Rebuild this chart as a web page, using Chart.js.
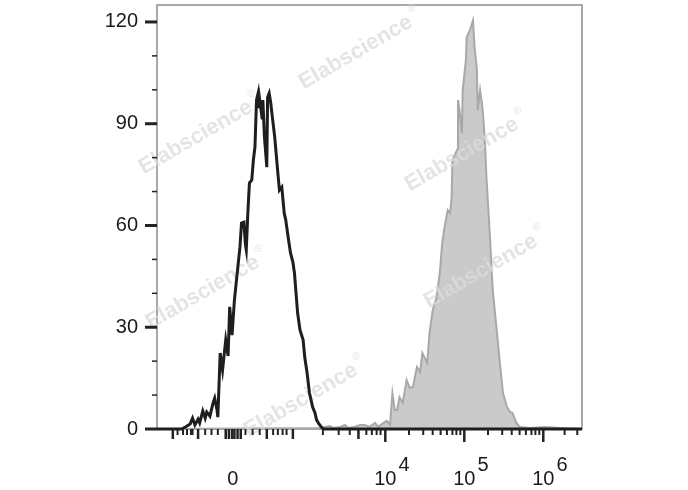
<!DOCTYPE html>
<html>
<head>
<meta charset="utf-8">
<script src="https://cdn.jsdelivr.net/npm/chart.js@4.4.1/dist/chart.umd.min.js"></script>
<style>
  html, body { margin: 0; padding: 0; background: #fff; }
  #wrap { width: 688px; height: 490px; }
</style>
</head>
<body>
<div id="wrap"><canvas id="histChart" width="688" height="490"></canvas></div>
<script>
// x values are in display units of the biexponential axis (10^4 -> 4, 10^5 -> 5, 10^6 -> 6)
const controlX = [1.11, 1.42, 1.47, 1.53, 1.56, 1.59, 1.63, 1.65, 1.69, 1.72, 1.74, 1.78, 1.82, 1.84, 1.87, 1.88,
    1.91, 1.94, 1.98, 2.01, 2.03, 2.06, 2.09, 2.12, 2.14, 2.16, 2.18, 2.21, 2.23, 2.24, 2.26, 2.28, 2.31, 2.33,
    2.35, 2.37, 2.39, 2.40, 2.41, 2.44, 2.45, 2.47, 2.50, 2.51, 2.53, 2.55, 2.56, 2.60, 2.64, 2.66, 2.69, 2.72,
    2.74, 2.77, 2.80, 2.83, 2.85, 2.89, 2.92, 2.96, 2.98, 3.01, 3.04, 3.08, 3.11, 3.13, 3.16, 3.20, 3.22, 6.49];
const controlY = [0, 0, 0.6, 1.5, 3.2, 1.2, 2.9, 1.8, 5.3, 3.2, 5.0, 3.8, 7.7, 9.1, 5.6, 3.5,
    22.4, 17.4, 26.2, 21.5, 36.0, 27.7, 38.0, 44.8, 49.2, 53.6, 60.7, 61.0, 54.2, 52.8, 63.7, 72.5, 73.4, 79.3,
    83.1, 97.0, 99.0, 94.6, 97.0, 91.7, 97.0, 86.1, 77.2, 97.8, 99.0, 96.1, 94.0, 86.1, 75.4, 70.4, 71.3, 63.7,
    61.6, 56.6, 51.9, 49.2, 46.0, 34.2, 29.2, 26.2, 21.2, 16.5, 10.6, 6.5, 4.7, 2.7, 1.5, 0.3, 0, 0];

const stainedX = [1.11, 3.17, 3.30, 3.34, 3.43, 3.49, 3.53, 3.61, 3.68, 3.74, 3.80, 3.87, 3.91, 3.96, 4.02, 4.06,
    4.09, 4.12, 4.15, 4.18, 4.22, 4.27, 4.31, 4.35, 4.40, 4.44, 4.47, 4.53, 4.56, 4.60, 4.65, 4.69, 4.72, 4.75,
    4.79, 4.82, 4.84, 4.85, 4.88, 4.91, 4.92, 4.94, 4.97, 4.98, 5.02, 5.03, 5.07, 5.11, 5.13, 5.16, 5.17, 5.20,
    5.23, 5.26, 5.28, 5.32, 5.36, 5.41, 5.45, 5.49, 5.54, 5.58, 5.61, 5.66, 5.70, 5.83, 6.02, 6.21, 6.49];
const stainedY = [0, 0.3, 0.9, 0.3, 0.6, 1.2, 0.3, 0.6, 1.2, 1.2, 0.6, 1.8, 0.6, 1.5, 2.4, 1.2,
    10.6, 5.6, 5.6, 9.4, 7.7, 14.4, 12.1, 12.4, 18.3, 16.8, 22.4, 19.5, 28.3, 35.0, 38.9, 46.0, 54.8, 59.5,
    64.5, 63.6, 68.4, 79.3, 80.8, 82.3, 97.0, 94.0, 87.2, 99.9, 108.7, 115.5, 117.5, 120.5, 112.6, 105.8, 94.0, 99.9,
    94.9, 85.2, 74.3, 58.6, 41.0, 29.2, 19.5, 10.6, 6.5, 5.0, 4.7, 1.8, 0.6, 0.3, 0.6, 0.3, 0];

const yMinorTicks = [10, 20, 40, 50, 70, 80, 100, 110];
const xLabelTicks = [2.07, 4, 5, 6];
const xLabelBase = ['0', '10', '10', '10'];
const xLabelSup = ['', '4', '5', '6'];
const xLongTicks = [1.31, 1.63, 1.98, 2.02, 2.06, 2.09, 2.13, 2.17, 2.50, 2.83, 3.66, 4, 5, 6];
const xShortTicks = [1.37, 1.44, 1.49, 1.54, 1.56, 1.72, 1.80, 1.88, 2.23, 2.32, 2.41, 2.58, 2.64, 2.70, 2.75,
    3.21, 3.41, 3.55, 3.76, 3.83, 3.89, 3.94,
    4.30, 4.48, 4.60, 4.70, 4.78, 4.85, 4.90, 4.95,
    5.30, 5.48, 5.60, 5.70, 5.78, 5.85, 5.90, 5.95, 6.27, 6.43];
const watermarkSpots = [[360, 50], [200, 135], [466, 152], [207, 290], [485, 269], [305, 398]];

const FONT = "'Liberation Sans', Arial, sans-serif";

function toPoints(xs, ys) {
    return xs.map((x, i) => ({ x: x, y: ys[i] }));
}

// frame, tick marks, x labels with superscripts, watermark
const cytoAxes = {
    id: 'cytoAxes',
    beforeDatasetsDraw(chart) {
        const ctx = chart.ctx;
        const a = chart.chartArea;
        ctx.save();
        ctx.strokeStyle = '#8c8c8c';
        ctx.lineWidth = 1.5;
        ctx.strokeRect(a.left, a.top, a.right - a.left, a.bottom - a.top);
        ctx.restore();
    },
    afterDatasetDraw(chart, args) {
        if (args.index !== 1) return;
        const ctx = chart.ctx;
        ctx.save();
        ctx.font = 'bold 22px ' + FONT;
        ctx.fillStyle = 'rgba(220, 220, 220, 0.76)';
        ctx.textAlign = 'center';
        ctx.textBaseline = 'middle';
        watermarkSpots.forEach(p => {
            ctx.save();
            ctx.translate(p[0], p[1]);
            ctx.rotate(-30 * Math.PI / 180);
            ctx.fillText('Elabscience', -5, 0);
            const w = ctx.measureText('Elabscience').width;
            ctx.font = '11px ' + FONT;
            ctx.fillText('\u00AE', w / 2 + 2, -10);
            ctx.restore();
        });
        ctx.restore();
    },
    afterDraw(chart) {
        const ctx = chart.ctx;
        const a = chart.chartArea;
        const xs = chart.scales.x;
        const ys = chart.scales.y;
        ctx.save();
        ctx.strokeStyle = '#222';
        // y ticks
        ys.ticks.forEach(t => {
            const y = ys.getPixelForValue(t.value);
            ctx.lineWidth = 3;
            ctx.beginPath();
            ctx.moveTo(a.left - 12, y);
            ctx.lineTo(a.left, y);
            ctx.stroke();
        });
        ctx.lineWidth = 1.5;
        yMinorTicks.forEach(v => {
            const y = ys.getPixelForValue(v);
            ctx.beginPath();
            ctx.moveTo(a.left - 5, y);
            ctx.lineTo(a.left, y);
            ctx.stroke();
        });
        // x ticks
        ctx.lineWidth = 2.5;
        xLongTicks.forEach(v => {
            const x = xs.getPixelForValue(v);
            ctx.beginPath();
            ctx.moveTo(x, a.bottom);
            ctx.lineTo(x, a.bottom + (v >= 4 ? 13 : 10));
            ctx.stroke();
        });
        ctx.lineWidth = 2;
        xShortTicks.forEach(v => {
            const x = xs.getPixelForValue(v);
            ctx.beginPath();
            ctx.moveTo(x, a.bottom);
            ctx.lineTo(x, a.bottom + 6);
            ctx.stroke();
        });
        // x labels
        ctx.fillStyle = '#1a1a1a';
        ctx.textBaseline = 'alphabetic';
        xLabelTicks.forEach((v, i) => {
            const x = xs.getPixelForValue(v);
            ctx.font = '20px ' + FONT;
            ctx.textAlign = 'center';
            ctx.fillText(xLabelBase[i], x, 485);
            if (xLabelSup[i]) {
                const w = ctx.measureText(xLabelBase[i]).width;
                ctx.textAlign = 'left';
                ctx.fillText(xLabelSup[i], x + w / 2 + 2, 471);
            }
        });
        ctx.restore();
    }
};

const chart = new Chart(document.getElementById('histChart'), {
    type: 'line',
    data: {
        datasets: [{
            label: 'Control',
            data: toPoints(controlX, controlY),
            borderColor: '#1e1e1e',
            borderWidth: 3,
            fill: false,
            pointRadius: 0,
            tension: 0,
            clip: false
        }, {
            label: 'Stained',
            data: toPoints(stainedX, stainedY),
            borderColor: '#a8a8a8',
            backgroundColor: '#cacaca',
            borderWidth: 2,
            fill: 'origin',
            pointRadius: 0,
            tension: 0,
            clip: false
        }]
    },
    options: {
        responsive: false,
        animation: false,
        layout: {
            padding: { top: 5, right: 106, bottom: 0, left: 0 }
        },
        plugins: {
            legend: { display: false },
            tooltip: { enabled: false }
        },
        scales: {
            x: {
                type: 'linear',
                min: 1.11,
                max: 6.49,
                border: { display: false },
                grid: { display: false, drawTicks: false },
                ticks: { display: false },
                afterFit(scale) {
                    scale.height = 61;
                    scale.paddingLeft = 0;
                    scale.paddingRight = 0;
                }
            },
            y: {
                type: 'linear',
                min: 0,
                max: 125,
                border: { display: false },
                grid: { display: false, drawTicks: false },
                ticks: {
                    stepSize: 30,
                    includeBounds: false,
                    padding: 19,
                    color: '#1a1a1a',
                    font: { family: FONT, size: 20 }
                },
                afterFit(scale) {
                    scale.width = 157;
                    scale.paddingTop = 0;
                    scale.paddingBottom = 0;
                }
            }
        }
    },
    plugins: [cytoAxes]
});
</script>
</body>
</html>
